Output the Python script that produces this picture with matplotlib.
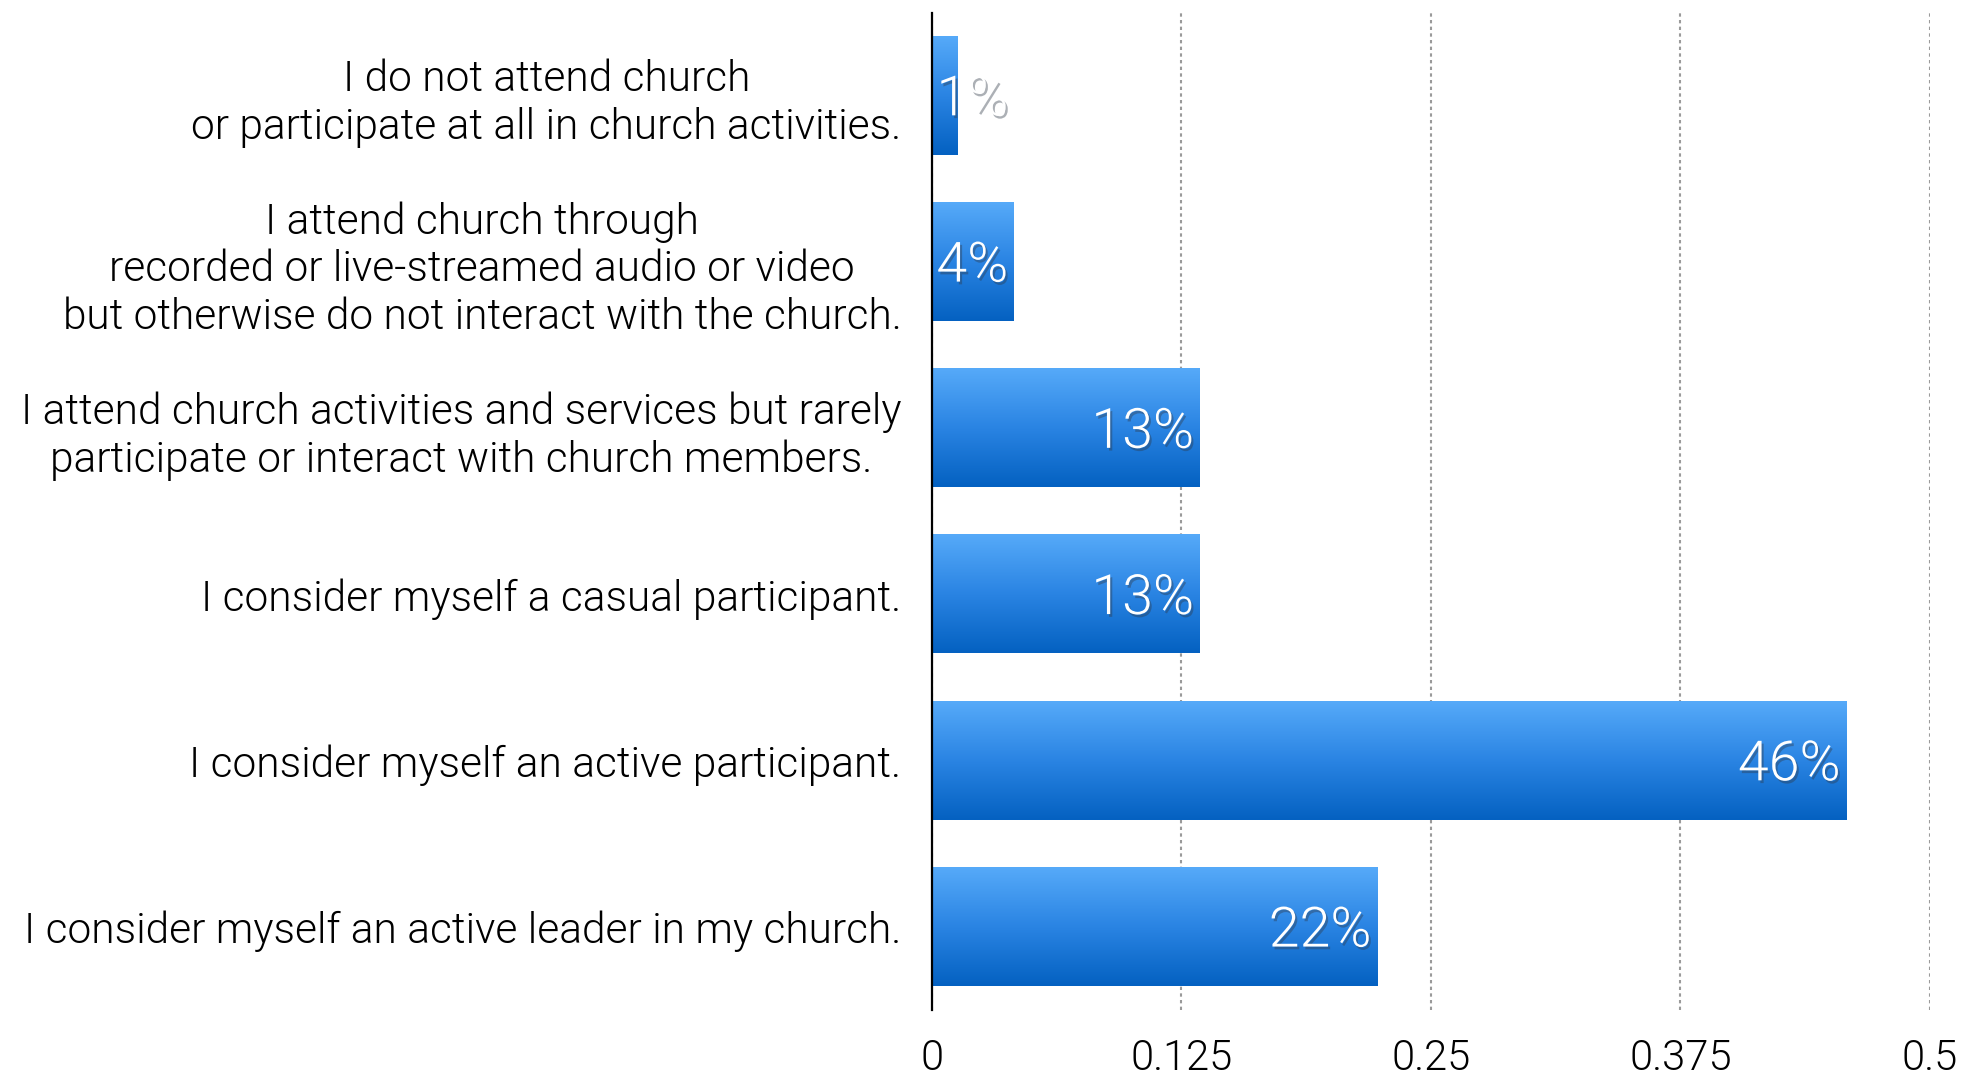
import numpy as np
import matplotlib.pyplot as plt
import matplotlib.patheffects as pe
from matplotlib.colors import LinearSegmentedColormap

categories = [
    "I do not attend church\nor participate at all in church activities.",
    "I attend church through\nrecorded or live-streamed audio or video\nbut otherwise do not interact with the church.",
    "I attend church activities and services but rarely\nparticipate or interact with church members.",
    "I consider myself a casual participant.",
    "I consider myself an active participant.",
    "I consider myself an active leader in my church.",
]
values = [0.013, 0.041, 0.134, 0.134, 0.458, 0.223]
ticks = [0, 0.125, 0.25, 0.375, 0.5]
tick_labels = ["0", "0.125", "0.25", "0.375", "0.5"]

plt.rcParams['font.family'] = ['Roboto', 'DejaVu Sans']
plt.rcParams['font.weight'] = 300

# blue fill, light at the top of each bar and darker at the bottom
blues = LinearSegmentedColormap.from_list('bar_blue', ['#56aaf9', '#2a84e3', '#0461c1'])
grad = np.linspace(0, 1, 256).reshape(-1, 1)

fig = plt.figure(figsize=(19.8, 10.73), dpi=100)
ax = fig.add_axes([0.4707, 0.0587, 0.504, 0.9296])

y = np.arange(len(values))
h = 0.71
bars = ax.barh(y, values, height=h, color='none', edgecolor='none')
for yi, v in zip(y, values):
    ax.imshow(grad, cmap=blues, aspect='auto', interpolation='bicubic',
              extent=(0, v, yi + h / 2, yi - h / 2), zorder=2)

# percentage labels, kept at least as far right as the 4% bar
label_x = np.maximum(values, 0.041)
shadow = [pe.SimplePatchShadow(offset=(1.5, -2), shadow_rgbFace='#303a48', alpha=0.4), pe.Normal()]
for yi, v, lx in zip(y, values, label_x):
    ax.annotate(f"{round(v * 100)}%", (lx, yi), xytext=(-4, -3), textcoords='offset points',
                ha='right', va='center', color='white', fontsize=40, zorder=4,
                path_effects=shadow)

ax.set_xlim(0, 0.5)
ax.set_ylim(len(values) - 0.5, -0.5)
ax.set_yticks(y, categories, fontsize=30.5, linespacing=1.2)
for lbl in ax.get_yticklabels():
    lbl.set_multialignment('center')
ax.set_xticks(ticks, tick_labels, fontsize=30)
ax.tick_params(axis='both', length=0)
ax.tick_params(axis='y', pad=22)
ax.tick_params(axis='x', pad=20)

ax.grid(axis='x', color='#9a9a9a', linestyle=(0, (1.6, 1.6)), linewidth=1.5, zorder=1)
ax.set_axisbelow(True)
for side in ['top', 'right', 'bottom']:
    ax.spines[side].set_visible(False)
ax.spines['left'].set_linewidth(1.6)
ax.spines['left'].set_zorder(5)

plt.savefig("out.png")
